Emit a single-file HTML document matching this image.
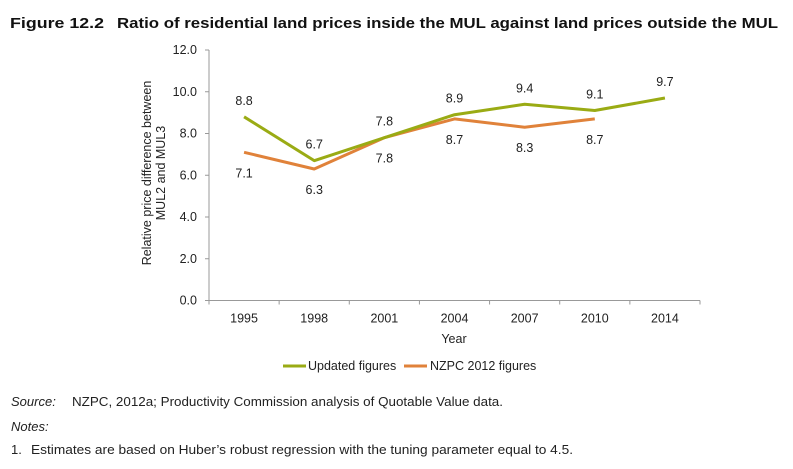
<!DOCTYPE html>
<html><head><meta charset="utf-8"><style>
body{margin:0;background:#fff}
svg{display:block;font-family:"Liberation Sans",sans-serif}
</style></head><body>
<svg width="793" height="469" viewBox="0 0 793 469">
<text x="10" y="28" font-size="15" font-weight="bold" fill="#111" textLength="94" lengthAdjust="spacingAndGlyphs">Figure 12.2</text>
<text x="117" y="28" font-size="15" font-weight="bold" fill="#111" textLength="661" lengthAdjust="spacingAndGlyphs">Ratio of residential land prices inside the MUL against land prices outside the MUL</text>
<g id="axes"></g>
<g id="series"></g>
<text transform="translate(151,173) rotate(-90)" text-anchor="middle" font-size="12.5" fill="#222"><tspan x="0" dy="0">Relative price difference between</tspan><tspan x="0" dy="14">MUL2 and MUL3</tspan></text>
<text x="454" y="343" text-anchor="middle" font-size="12.5" fill="#222">Year</text>
<g>
<line x1="283" y1="366" x2="306" y2="366" stroke="#9aab14" stroke-width="3"/>
<text x="308" y="370" font-size="12.5" fill="#222">Updated figures</text>
<line x1="404" y1="366" x2="427" y2="366" stroke="#e0823a" stroke-width="3"/>
<text x="430" y="370" font-size="12.5" fill="#222">NZPC 2012 figures</text>
</g>
<text x="11" y="406" font-size="13" font-style="italic" fill="#222">Source:</text>
<text x="72" y="406" font-size="13" fill="#222" textLength="431" lengthAdjust="spacingAndGlyphs">NZPC, 2012a; Productivity Commission analysis of Quotable Value data.</text>
<text x="11" y="431" font-size="13" font-style="italic" fill="#222">Notes:</text>
<text x="11" y="454" font-size="13" fill="#222">1.</text>
<text x="31" y="454" font-size="13" fill="#222" textLength="542" lengthAdjust="spacingAndGlyphs">Estimates are based on Huber’s robust regression with the tuning parameter equal to 4.5.</text>
</svg>
<script>
const categories=["1995","1998","2001","2004","2007","2010","2014"];
const updatedValues=[8.8,6.7,7.8,8.9,9.4,9.1,9.7];
const nzpcValues=[7.1,6.3,7.8,8.7,8.3,8.7,null];
const yTicks=[0,2,4,6,8,10,12];
const NS="http://www.w3.org/2000/svg";
const L=209,R=700,T=50,B=300.5,YMAX=12;
const band=(R-L)/categories.length;
const xs=i=>L+band*(i+0.5);
const ys=v=>B-(v/YMAX)*(B-T);
function mk(tag,attrs,parent,txt){const e=document.createElementNS(NS,tag);for(const k in attrs)e.setAttribute(k,attrs[k]);if(txt!=null)e.textContent=txt;parent.appendChild(e);return e;}
const ax=document.getElementById('axes');
let e=mk('line',{x1:L,y1:T,x2:L,y2:B,stroke:'#999'},ax);


e=mk('line',{x1:L,y1:B,x2:R,y2:B,stroke:'#999'},ax);


yTicks.forEach(v=>{
  const y=ys(v);
  mk('line',{x1:L-4,y1:y,x2:L,y2:y,stroke:'#999'},ax);
  const t=mk('text',{x:197,y:y+4,'text-anchor':'end','font-size':12.5,fill:'#222'},ax,v.toFixed(1));
  
  
});
for(let i=0;i<=categories.length;i++){
  const x=L+band*i;
  mk('line',{x1:x,y1:B,x2:x,y2:B+4,stroke:'#999'},ax);
}
categories.forEach((c,i)=>{
  const t=mk('text',{x:xs(i),y:B+22,'text-anchor':'middle','font-size':12.5,fill:'#222'},ax,c);
  
  
});
const sg=document.getElementById('series');
function drawSeries(vals,color,name,above){
  const pts=[];vals.forEach((v,i)=>{if(v!=null)pts.push(xs(i)+','+ys(v));});
  const p=mk('polyline',{points:pts.join(' '),fill:'none',stroke:color,'stroke-width':3,'stroke-linejoin':'round'},sg);
  
  
  vals.forEach((v,i)=>{
    if(v==null)return;
    const t=mk('text',{x:xs(i),y:above?ys(v)-12:ys(v)+25,'text-anchor':'middle','font-size':12.5,fill:'#222'},sg,v.toFixed(1));
    
    
  });
}
drawSeries(nzpcValues,'#e0823a','nzpc-2012',false);
drawSeries(updatedValues,'#9aab14','updated',true);
</script>
</body></html>
